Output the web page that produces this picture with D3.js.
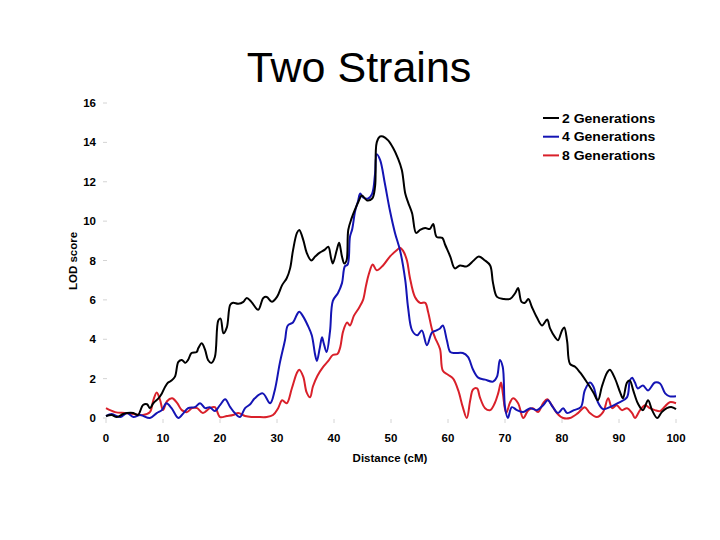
<!DOCTYPE html>
<html lang="en">
<head>
    <meta charset="UTF-8">
    <title>Two Strains</title>
    <script src="https://d3js.org/d3.v7.min.js"></script>
    <style>
        body {
            margin: 0;
            background: #fff;
        }
        .tick-label {
            font: bold 11.5px "Liberation Sans", Arial, sans-serif;
            fill: #000;
        }
        .series {
            fill: none;
            stroke-width: 2px;
            stroke-linejoin: round;
        }
    </style>
</head>
<body>
    <div id="chart"></div>

    <script>
        // distance (cM) / LOD score pairs
        const gen2 = [[0,0.1],[1,0.15],[1.9,0.05],[3,0.2],[3.7,0.25],[4.8,0.25],[5.6,0.15],[6.5,0.66],[7.2,0.7],[7.7,0.5],[8.3,0.75],[9.2,1.0],[9.8,1.25],[10.4,1.6],[10.9,1.8],[11.5,1.9],[12.1,2.1],[12.7,2.85],[13.3,2.95],[13.9,2.8],[14.4,2.95],[15.0,3.3],[15.9,3.35],[16.2,3.55],[16.8,3.8],[17.4,3.45],[17.9,2.95],[18.5,2.8],[19.1,3.1],[19.7,4.95],[20.1,5.05],[20.6,4.3],[21.2,4.6],[21.8,5.75],[22.3,5.85],[23.2,5.8],[24.1,5.9],[24.7,6.1],[25.5,5.9],[26.7,5.5],[27.6,6.1],[28.2,6.15],[29.1,5.9],[30.0,6.15],[30.9,6.75],[31.7,7.1],[32.3,7.6],[32.8,8.5],[33.5,9.4],[33.9,9.55],[34.6,9.05],[35.2,8.4],[36.0,8.0],[36.7,8.2],[37.5,8.4],[38.4,8.55],[39.0,8.7],[39.5,8.1],[39.8,7.85],[40.5,8.55],[40.9,8.9],[41.4,8.2],[41.8,7.85],[42.2,8.0],[42.5,9.55],[43.1,10.15],[43.7,10.6],[44.3,11.0],[44.9,11.3],[45.8,11.05],[46.7,11.15],[47.2,11.75],[47.5,14.0],[48.1,14.3],[48.6,14.3],[49.5,14.1],[50.4,13.7],[51.2,13.2],[51.9,12.6],[52.5,11.4],[53.0,10.95],[53.7,10.4],[54.4,9.4],[55.1,9.55],[56.0,9.65],[56.8,9.6],[57.4,9.85],[58.0,9.2],[59.0,9.15],[59.5,8.8],[60.4,8.2],[61.2,7.6],[62.1,7.75],[63.3,7.7],[64.5,8.0],[65.4,8.2],[66.5,8.0],[67.4,7.75],[67.9,6.85],[68.6,6.15],[69.7,6.05],[70.9,6.05],[71.8,6.35],[72.3,6.6],[72.9,5.9],[73.5,5.85],[74.1,6.05],[74.7,5.65],[75.6,5.1],[76.5,4.7],[77.4,5.0],[77.9,4.55],[78.8,4.1],[79.3,3.95],[80.0,4.45],[80.4,4.6],[80.9,3.9],[81.4,2.75],[82.3,2.6],[83.2,2.3],[84.4,1.8],[85.5,1.3],[86.3,0.9],[87.0,1.6],[87.9,2.3],[88.4,2.45],[89.3,2.0],[90.2,1.3],[90.7,1.0],[91.4,1.8],[91.9,1.9],[92.5,1.4],[93.3,0.75],[94.2,0.4],[95.1,0.9],[95.8,0.4],[96.7,0.0],[97.5,0.3],[98.4,0.5],[99.3,0.55],[100,0.45]];

        const gen4 = [[0,0.1],[1,0.2],[2.5,0.05],[3.7,0.25],[4.8,0.05],[6,0.15],[7.7,0],[8.9,0.25],[9.8,0.4],[10.6,0.75],[11.5,0.5],[12.7,0],[13.6,0.25],[14.4,0.5],[15.6,0.55],[16.5,0.75],[17.4,0.5],[18.2,0.55],[19.1,0.35],[20,0.65],[20.9,0.95],[21.8,0.55],[22.6,0.25],[23.5,0.05],[24.4,0.5],[25.3,0.7],[26.1,1.0],[27.5,1.25],[28.8,0.75],[29.6,1.4],[30.5,2.8],[31.4,3.95],[31.9,4.7],[32.8,4.85],[33.5,5.25],[33.9,5.4],[34.6,5.15],[35.4,4.7],[36.1,4.2],[36.7,3.2],[37.0,2.9],[37.5,3.55],[37.9,4.1],[38.2,3.8],[38.7,3.35],[39.3,4.4],[39.8,5.95],[40.7,6.35],[41.4,6.85],[41.9,7.7],[42.4,7.8],[42.8,9.2],[43.2,9.6],[43.7,10.5],[44.2,11.0],[44.6,11.4],[45.1,11.2],[46.0,11.15],[46.7,11.4],[47.2,12.4],[47.5,13.4],[48.1,13.1],[48.9,11.95],[49.8,10.55],[50.7,9.4],[51.6,8.5],[52.5,7.0],[53.0,5.6],[53.7,4.45],[54.6,4.2],[55.4,4.45],[56.3,3.7],[57.2,4.35],[58.0,4.45],[58.6,4.55],[59.1,4.7],[59.8,3.95],[60.4,3.35],[61.2,3.3],[62.6,3.3],[63.5,3.1],[64.4,2.45],[65.3,2.05],[66.5,1.95],[67.9,1.85],[68.6,2.1],[69.1,2.95],[69.6,2.6],[70.0,0.55],[70.5,0],[71.2,0.55],[72.1,0.4],[73.2,0.3],[74.4,0.5],[75.6,0.4],[76.7,0.65],[77.5,0.9],[78.4,0.55],[79.3,0.25],[80.2,0.5],[80.9,0.25],[82.1,0.4],[83.3,0.55],[84,1.4],[84.9,1.8],[85.5,1.6],[86.3,0.8],[87.2,0.45],[88.4,0.55],[89.8,0.75],[91.4,1.05],[91.9,1.9],[92.3,2.05],[92.8,1.8],[93.3,1.5],[94.2,1.65],[95.1,1.4],[96.3,1.8],[97.2,1.75],[98.1,1.25],[98.9,1.1],[100,1.1]];

        const gen8 = [[0,0.5],[1.6,0.3],[3.3,0.25],[4.8,0.2],[6.5,0.15],[7.7,0.3],[8.3,0.9],[8.9,1.3],[9.5,0.9],[10,0.4],[10.7,0.85],[11.6,1.0],[12.5,0.75],[13.3,0.4],[14.2,0.3],[15.1,0.5],[16,0.5],[17,0.25],[18.2,0.5],[19.1,0.55],[20,0.05],[21.2,0.1],[22.3,0.15],[23.2,0.25],[24.4,0.1],[25.5,0.05],[26.5,0.05],[28.2,0.05],[29.3,0.15],[30.2,0.5],[30.9,0.9],[31.7,0.75],[32.6,1.5],[33.5,2.3],[33.9,2.45],[34.6,2.1],[35.2,1.3],[35.8,1.05],[36.3,1.6],[37.1,2.15],[38.1,2.6],[39,2.9],[39.8,3.2],[40.6,3.25],[41.1,3.6],[41.6,4.4],[42.3,4.85],[42.8,4.7],[43.5,5.2],[44.4,5.6],[45.1,6.0],[45.6,6.7],[46.1,7.3],[46.8,7.8],[47.5,7.5],[48.6,7.75],[49.8,8.2],[51.1,8.55],[51.6,8.65],[52.1,8.5],[52.8,8.0],[53.3,7.15],[54.2,6.15],[55.1,5.85],[56,5.85],[56.5,5.4],[57.2,4.5],[57.7,4.1],[58.6,3.5],[59.1,2.4],[60,2.2],[60.9,2.0],[61.8,1.4],[62.6,0.55],[63.3,0.0],[63.9,0.9],[64.4,1.45],[65.1,1.5],[65.6,1.05],[66.5,0.5],[67.4,0.4],[68.2,0.75],[68.8,1.25],[69.3,1.8],[69.6,1.3],[70.2,0.25],[70.9,0.8],[71.4,1.0],[72.3,0.75],[73.2,0],[74.1,0.4],[74.9,0.5],[75.8,0.3],[76.7,0.75],[77.4,0.95],[78.2,0.65],[79.1,0.25],[80.2,0],[81.4,0],[82.8,0.25],[84,0.55],[84.9,0.25],[86.1,0.05],[87.2,0.3],[88.1,1.0],[88.8,0.5],[89.6,0.65],[90.5,0.4],[91.4,0.5],[92.3,0.25],[92.8,0],[93.7,0.4],[94.6,0.65],[95.4,0.5],[96.3,0.4],[97.2,0.35],[98.1,0.6],[98.9,0.8],[100,0.75]];

        const seriesNames = ["2 Generations", "4 Generations", "8 Generations"];
        const seriesColors = ["#000000", "#1414b4", "#d9202a"];
        const xTicks = [0, 10, 20, 30, 40, 50, 60, 70, 80, 90, 100];
        const yTicks = [0, 2, 4, 6, 8, 10, 12, 14, 16];

        const width = 720;
        const height = 540;
        const font = '"Liberation Sans", Arial, sans-serif';

        const svg = d3.select("#chart").append("svg")
            .attr("width", width)
            .attr("height", height)
            .style("background", "#fff");

        const x = d3.scaleLinear().domain([0, 100]).range([106, 676]);
        const y = d3.scaleLinear().domain([0, 16]).range([418, 103]);

        // title
        svg.append("text")
            .attr("x", 359)
            .attr("y", 82)
            .attr("text-anchor", "middle")
            .style("font", `43px ${font}`)
            .text("Two Strains");

        // faint tick marks, no axis lines
        svg.append("g").selectAll("line")
            .data(yTicks)
            .enter().append("line")
            .attr("x1", 103).attr("x2", 107)
            .attr("y1", d => y(d)).attr("y2", d => y(d))
            .attr("stroke", "#d4d4d4");

        svg.append("g").selectAll("line")
            .data(xTicks)
            .enter().append("line")
            .attr("x1", d => x(d)).attr("x2", d => x(d))
            .attr("y1", 419).attr("y2", 423)
            .attr("stroke", "#d4d4d4");

        svg.append("g").selectAll("text")
            .data(yTicks)
            .enter().append("text")
            .attr("class", "tick-label")
            .attr("x", 96)
            .attr("y", d => y(d))
            .attr("dy", "0.35em")
            .attr("text-anchor", "end")
            .text(d => d);

        svg.append("g").selectAll("text")
            .data(xTicks)
            .enter().append("text")
            .attr("class", "tick-label")
            .attr("x", d => x(d))
            .attr("y", 442)
            .attr("text-anchor", "middle")
            .text(d => d);

        svg.append("text")
            .attr("class", "tick-label")
            .attr("x", 390)
            .attr("y", 462)
            .attr("text-anchor", "middle")
            .text("Distance (cM)");

        svg.append("text")
            .attr("class", "tick-label")
            .attr("transform", "translate(77,261) rotate(-90)")
            .attr("text-anchor", "middle")
            .text("LOD score");

        const line = d3.line()
            .x(d => x(d[0]))
            .y(d => y(d[1]))
            .curve(d3.curveCatmullRom.alpha(0.5));

        const allSeries = [gen2, gen4, gen8];

        // red first so black ends up on top
        svg.append("g").selectAll("path")
            .data(allSeries.map((s, i) => ({ values: s, i })).reverse())
            .enter().append("path")
            .attr("class", "series")
            .attr("stroke", d => seriesColors[d.i])
            .attr("d", d => line(d.values));

        // legend
        const legend = svg.append("g").selectAll("g")
            .data(seriesNames)
            .enter().append("g")
            .attr("transform", (d, i) => `translate(543,${118 + i * 18.7})`);

        legend.append("line")
            .attr("x1", 0).attr("x2", 16)
            .attr("stroke", (d, i) => seriesColors[i])
            .attr("stroke-width", 2);

        legend.append("text")
            .attr("transform", "translate(19,0) scale(1.12,1)")
            .attr("dy", "0.36em")
            .style("font", `bold 12.5px ${font}`)
            .text(d => d);
    </script>
</body>
</html>
